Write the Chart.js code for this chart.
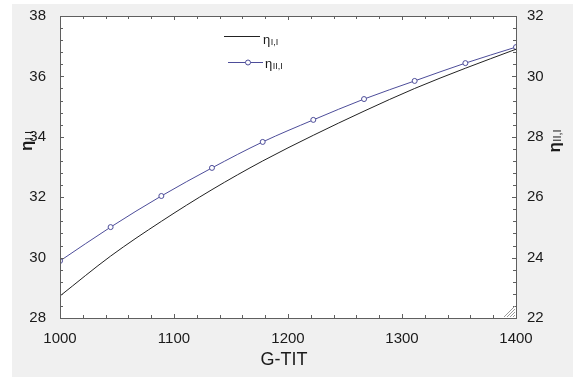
<!DOCTYPE html>
<html>
<head>
<meta charset="utf-8">
<script src="https://cdn.jsdelivr.net/npm/chart.js@4.4.1/dist/chart.umd.min.js"></script>
<style>
  html, body { margin: 0; padding: 0; background: #ffffff; }
  #wrap { width: 573px; height: 377px; }
</style>
</head>
<body>
<div id="wrap"><canvas id="chart" width="573" height="377"></canvas></div>
<script>
// data
const tit = [1000, 1044.4, 1088.9, 1133.3, 1177.8, 1222.2, 1266.7, 1311.1, 1355.6, 1400];
const etaI = [28.73, 30.05, 31.2, 32.25, 33.2, 34.05, 34.85, 35.6, 36.27, 36.9];
const etaII = [23.89, 25.01, 26.04, 26.97, 27.83, 28.56, 29.25, 29.85, 30.44, 30.97];
const xTicks = [1000, 1100, 1200, 1300, 1400];
const leftTicks = [28, 30, 32, 34, 36, 38];
const rightTicks = [22, 24, 26, 28, 30, 32];

const AXIS_COLOR = '#5f5f5f';
const TEXT_COLOR = '#1a1a1a';
const BLUE = '#4d4d9a';
const FONT = "'Liberation Sans', Arial, sans-serif";

// draws "η" followed by a subscript
function drawEta(ctx, x, y, sub, size, bold) {
    ctx.font = (bold ? 'bold ' : '') + size + 'px ' + FONT;
    ctx.fillText('η', x, y);
    const w = ctx.measureText('η').width;
    ctx.font = Math.round(size * 0.66) + 'px ' + FONT;
    ctx.fillText(sub, x + w + 0.5, y + size * 0.18);
}

function etaWidth(ctx, sub, size, bold) {
    ctx.font = (bold ? 'bold ' : '') + size + 'px ' + FONT;
    const w = ctx.measureText('η').width;
    ctx.font = Math.round(size * 0.66) + 'px ' + FONT;
    return w + 0.5 + ctx.measureText(sub).width;
}

const framePlugin = {
    id: 'frame',
    beforeDraw(chart) {
        const ctx = chart.ctx;
        const a = chart.chartArea;
        ctx.save();
        ctx.fillStyle = '#ffffff';
        ctx.fillRect(0, 0, chart.width, chart.height);
        ctx.fillStyle = '#f0f0f0';
        ctx.fillRect(12, 4, chart.width - 12, chart.height - 4);
        ctx.fillStyle = '#ffffff';
        ctx.fillRect(a.left, a.top, a.right - a.left, a.bottom - a.top);
        ctx.restore();
    },
    afterDraw(chart) {
        const ctx = chart.ctx;
        const a = chart.chartArea;
        const sx = chart.scales.x, sy = chart.scales.y, sy1 = chart.scales.y1;
        ctx.save();
        ctx.strokeStyle = AXIS_COLOR;
        ctx.lineWidth = 1;
        ctx.strokeRect(Math.round(a.left) + 0.5, Math.round(a.top) + 0.5,
            Math.round(a.right - a.left), Math.round(a.bottom - a.top));

        // inward ticks, minor every 20 on x and 0.4 on y
        ctx.beginPath();
        for (let v = 1000; v <= 1400; v += 20) {
            const px = Math.round(sx.getPixelForValue(v)) + 0.5;
            const len = v % 100 === 0 ? 4 : 3;
            ctx.moveTo(px, a.bottom); ctx.lineTo(px, a.bottom - len);
            ctx.moveTo(px, a.top); ctx.lineTo(px, a.top + len);
        }
        for (let i = 0; i <= 25; i++) {
            const len = i % 5 === 0 ? 4 : 3;
            const pl = Math.round(sy.getPixelForValue(28 + i * 0.4)) + 0.5;
            ctx.moveTo(a.left, pl); ctx.lineTo(a.left + len, pl);
            const pr = Math.round(sy1.getPixelForValue(22 + i * 0.4)) + 0.5;
            ctx.moveTo(a.right, pr); ctx.lineTo(a.right - len, pr);
        }
        ctx.stroke();

        // resize grip in the corner
        ctx.strokeStyle = '#9a9a9a';
        ctx.beginPath();
        for (let k = 3; k <= 12; k += 3) {
            ctx.moveTo(a.right - k, a.bottom - 1);
            ctx.lineTo(a.right - 1, a.bottom - k);
        }
        ctx.stroke();

        // axis titles
        ctx.fillStyle = TEXT_COLOR;
        ctx.textBaseline = 'middle';
        ctx.textAlign = 'left';
        ctx.save();
        ctx.translate(27, 141);
        ctx.rotate(-Math.PI / 2);
        let w = etaWidth(ctx, 'I,I', 17, true);
        drawEta(ctx, -w / 2, 0, 'I,I', 17, true);
        ctx.restore();
        ctx.save();
        ctx.translate(555, 141);
        ctx.rotate(-Math.PI / 2);
        w = etaWidth(ctx, 'II,I', 17, true);
        drawEta(ctx, -w / 2, 0, 'II,I', 17, true);
        ctx.restore();

        ctx.font = '18px ' + FONT;
        ctx.textAlign = 'center';
        ctx.fillText('G-TIT', (a.left + a.right) / 2 - 4, 360);

        // legend
        ctx.textAlign = 'left';
        ctx.strokeStyle = '#222222';
        ctx.beginPath();
        ctx.moveTo(224, 36.5); ctx.lineTo(260, 36.5);
        ctx.stroke();
        drawEta(ctx, 263, 40, 'I,I', 13, false);
        ctx.strokeStyle = BLUE;
        ctx.beginPath();
        ctx.moveTo(228, 62.5); ctx.lineTo(263, 62.5);
        ctx.stroke();
        ctx.fillStyle = '#ffffff';
        ctx.beginPath();
        ctx.arc(248, 62.5, 2.5, 0, Math.PI * 2);
        ctx.fill();
        ctx.stroke();
        ctx.fillStyle = TEXT_COLOR;
        drawEta(ctx, 265, 64, 'II,I', 13, false);
        ctx.restore();
    }
};

const tickFont = { size: 15, family: FONT };

new Chart(document.getElementById('chart'), {
    type: 'line',
    data: {
        datasets: [{
            label: 'ηI,I',
            data: tit.map((x, i) => ({ x: x, y: etaI[i] })),
            yAxisID: 'y',
            borderColor: '#222222',
            borderWidth: 1,
            pointRadius: 0,
            cubicInterpolationMode: 'monotone'
        }, {
            label: 'ηII,I',
            data: tit.map((x, i) => ({ x: x, y: etaII[i] })),
            yAxisID: 'y1',
            borderColor: BLUE,
            borderWidth: 1,
            pointRadius: 2.5,
            pointBackgroundColor: '#ffffff',
            pointBorderColor: BLUE,
            pointBorderWidth: 1,
            cubicInterpolationMode: 'monotone'
        }]
    },
    options: {
        responsive: false,
        animation: false,
        events: [],
        layout: { padding: { top: 16, left: 0, right: 0, bottom: 0 } },
        plugins: { legend: { display: false }, tooltip: { enabled: false } },
        scales: {
            x: {
                type: 'linear',
                min: 1000,
                max: 1400,
                afterBuildTicks: s => { s.ticks = xTicks.map(v => ({ value: v })); },
                afterFit: s => { s.height = 59; },
                grid: { display: false },
                border: { display: false },
                ticks: { color: TEXT_COLOR, font: tickFont, padding: 4, maxRotation: 0, callback: v => String(v) }
            },
            y: {
                position: 'left',
                min: 28,
                max: 38,
                afterBuildTicks: s => { s.ticks = leftTicks.map(v => ({ value: v })); },
                afterFit: s => { s.width = 60; },
                grid: { display: false },
                border: { display: false },
                ticks: { color: TEXT_COLOR, font: tickFont, padding: 6, callback: v => String(v) }
            },
            y1: {
                position: 'right',
                min: 22,
                max: 32,
                afterBuildTicks: s => { s.ticks = rightTicks.map(v => ({ value: v })); },
                afterFit: s => { s.width = 57; },
                grid: { display: false },
                border: { display: false },
                ticks: { color: TEXT_COLOR, font: tickFont, padding: 3, callback: v => String(v) }
            }
        }
    },
    plugins: [framePlugin]
});
</script>
</body>
</html>
